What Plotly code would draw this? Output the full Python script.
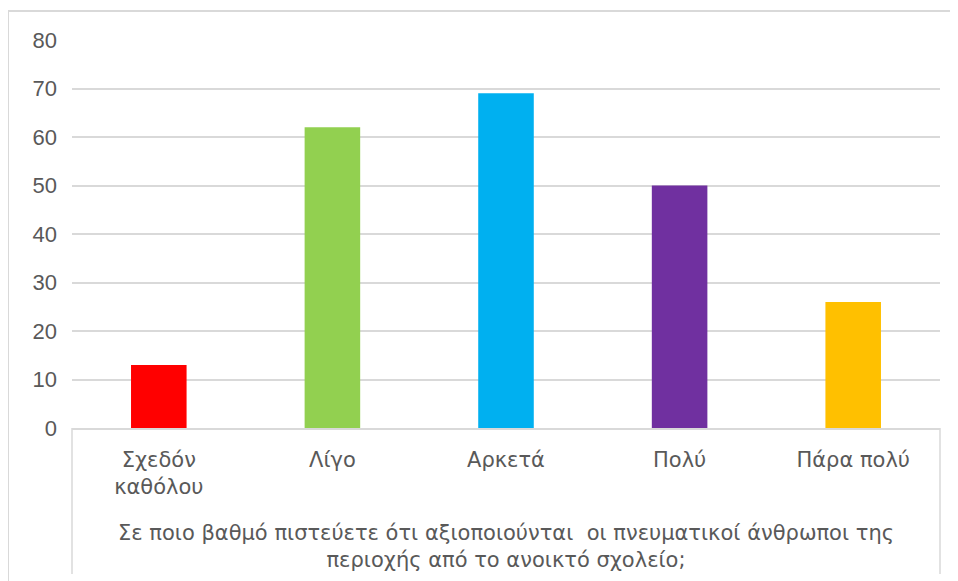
import plotly.graph_objects as go

# data
categories = ["Σχεδόν<br>καθόλου", "Λίγο", "Αρκετά", "Πολύ", "Πάρα πολύ"]
counts = [13, 62, 69, 50, 26]
bar_colors = ["#ff0000", "#92d050", "#00b0f0", "#7030a0", "#ffc000"]
y_ticks = [0, 10, 20, 30, 40, 50, 60, 70, 80]
axis_title = ("Σε ποιο βαθμό πιστεύετε ότι αξιοποιούνται  οι πνευματικοί άνθρωποι της"
              "<br>περιοχής από το ανοικτό σχολείο;")

GREY = "#595959"
LINE = "#d9d9d9"

# the page puts the figure 8px in from the top-left corner, so work in shifted pixels
OFF = 8
W, H = 958 - OFF, 581 - OFF
L, R, T, B = 72 - OFF, 940 - OFF, 40 - OFF, 428 - OFF
pw, ph = R - L, B - T
def px(x):
    return (x - OFF - L) / pw
def py(y):
    return (B - (y - OFF)) / ph

fig = go.Figure()
fig.add_trace(go.Bar(x=categories, y=counts, marker_color=bar_colors,
                     marker_line_width=0, width=0.32, showlegend=False))

shapes = [
    # outer frame (left and top edge of the chart area)
    dict(type="line", xref="paper", yref="paper", x0=px(8), x1=px(958), y0=py(11), y1=py(11),
         line=dict(color=LINE, width=2)),
    dict(type="line", xref="paper", yref="paper", x0=px(8), x1=px(8), y0=py(11), y1=py(581),
         line=dict(color=LINE, width=2)),
    # box under the category axis
    dict(type="line", xref="paper", yref="paper", x0=0, x1=0, y0=0, y1=py(574),
         line=dict(color=LINE, width=1.5)),
    dict(type="line", xref="paper", yref="paper", x0=1, x1=1, y0=0, y1=py(574),
         line=dict(color=LINE, width=1.5)),
]

fig.update_layout(
    width=W, height=H,
    margin=dict(l=L, r=W - R, t=T, b=H - B),
    paper_bgcolor="white", plot_bgcolor="white",
    font=dict(family="Liberation Sans, Arial", color=GREY),
    shapes=shapes,
    annotations=[dict(text=axis_title, xref="paper", yref="paper", x=0.5, y=py(546),
                      xanchor="center", yanchor="middle", showarrow=False,
                      font=dict(family="DejaVu Sans", size=21, color=GREY))],
)
fig.update_yaxes(range=[0, 80], tickvals=y_ticks, showgrid=True, gridcolor=LINE, gridwidth=1.5,
                 zeroline=False, showline=False, ticks="", ticklabelstandoff=14,
                 tickfont=dict(size=22, color=GREY))
fig.update_xaxes(showline=True, linecolor=LINE, linewidth=1.5, ticks="", ticklabelstandoff=12,
                 tickfont=dict(family="DejaVu Sans", size=21, color=GREY))

fig.write_html("out.html")
